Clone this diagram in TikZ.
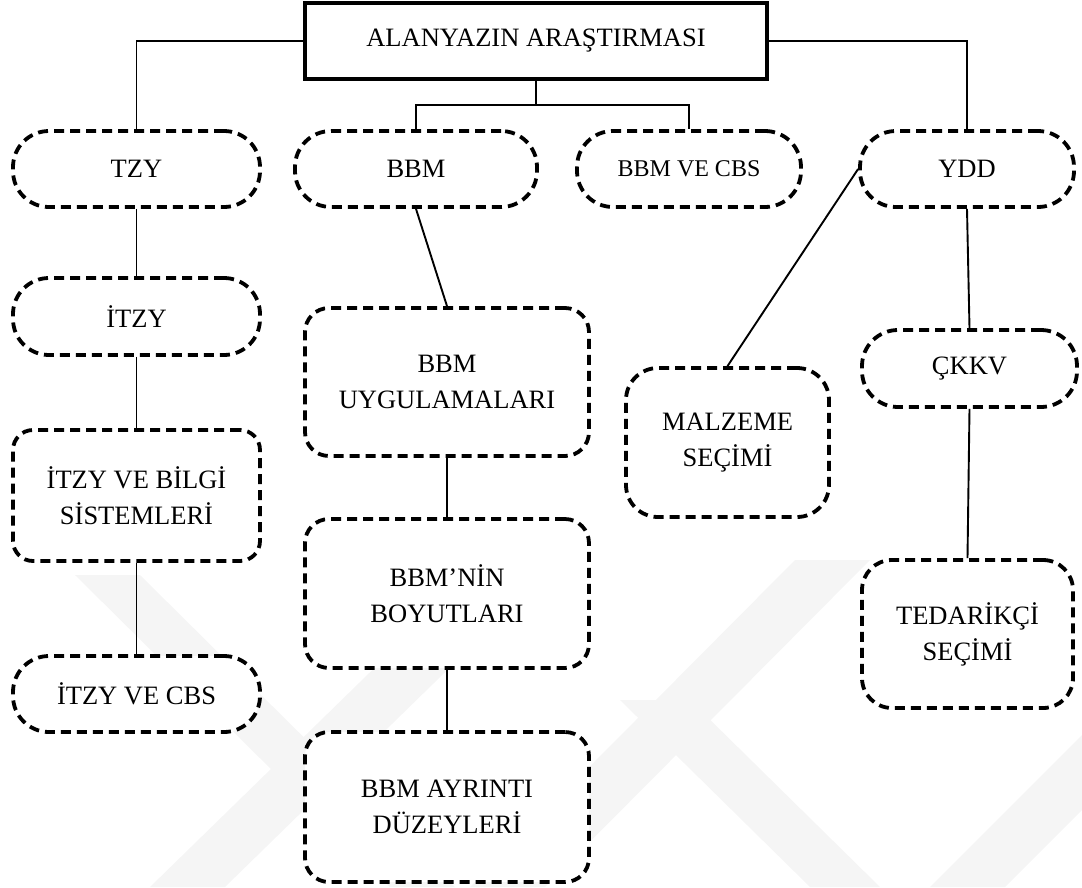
\documentclass[tikz,border=0pt]{standalone}
\usepackage{fontspec}
\setmainfont{Liberation Serif}
\begin{document}
\begin{tikzpicture}[x=1pt,y=-1pt,
  box/.style={draw, line width=3.8pt, dash pattern=on 10pt off 6pt, fill=white, align=center, inner sep=0pt, font=\fontsize{26.5}{36}\selectfont},
  pill/.style={box, rounded corners=36pt},
  rbox/.style={box, rounded corners=24pt},
  link/.style={line width=1.9pt},
  wm/.style={fill=black!4, draw=none}]
\useasboundingbox (0,0) rectangle (1082,887);
% faint watermark
\fill[wm] (75,575) -- (140,575) -- (455,887) -- (390,887) -- cycle;
\fill[wm] (150,887) -- (225,887) -- (560,560) -- (485,560) -- cycle;
\fill[wm] (470,887) -- (545,887) -- (870,560) -- (795,560) -- cycle;
\fill[wm] (620,700) -- (690,700) -- (880,887) -- (810,887) -- cycle;
\fill[wm] (930,887) -- (1005,887) -- (1082,810) -- (1082,735) -- cycle;
% nodes
\node[draw, line width=4.5pt, minimum width=462pt, minimum height=76pt, fill=white, inner sep=0pt, font=\fontsize{26.5}{36}\selectfont] (top) at (536,41) {ALANYAZIN ARAŞTIRMASI};
\node[pill, minimum width=247pt, minimum height=76pt] (tzy) at (136.5,169) {TZY};
\node[pill, minimum width=242pt, minimum height=76pt] (bbm) at (416,169) {BBM};
\node[pill, minimum width=224pt, minimum height=76pt, font=\fontsize{24}{34}\selectfont] (bbmcbs) at (689,169) {BBM VE CBS};
\node[pill, minimum width=214pt, minimum height=76pt] (ydd) at (967,169) {YDD};
\node[pill, minimum width=247pt, minimum height=77pt] (itzy) at (136.5,316.5) {İTZY};
\node[rbox, rounded corners=20pt, minimum width=247pt, minimum height=131pt] (itzyb) at (136.5,495.5) {İTZY VE BİLGİ\\SİSTEMLERİ};
\node[pill, minimum width=247pt, minimum height=76pt] (itzycbs) at (136.5,694) {İTZY VE CBS};
\node[rbox, minimum width=284pt, minimum height=148pt] (bbmu) at (447,382) {BBM\\UYGULAMALARI};
\node[rbox, minimum width=284pt, minimum height=149pt] (bbmn) at (447,593.5) {BBM’NİN\\BOYUTLARI};
\node[rbox, minimum width=284pt, minimum height=150pt] (bbma) at (447,807) {BBM AYRINTI\\DÜZEYLERİ};
\node[rbox, rounded corners=32pt, minimum width=203pt, minimum height=149pt] (malz) at (727.5,442.5) {MALZEME\\SEÇİMİ};
\node[pill, minimum width=215pt, minimum height=77pt] (ckkv) at (969.5,368.5) {ÇKKV};
\node[rbox, rounded corners=30pt, minimum width=211pt, minimum height=148pt] (ted) at (967.5,634) {TEDARİKÇİ\\SEÇİMİ};
% connectors
\coordinate (bar) at (536,105);
\draw[link] (top.west) -| (tzy.north);
\draw[link] (top.east) -| (ydd.north);
\draw[link] (top.south) -- (bar);
\draw[link] (bbm.north) |- (bar) -| (bbmcbs.north);
\draw[link] (tzy.south) -- (itzy.north);
\draw[link] (itzy.south) -- (itzyb.north);
\draw[link] (itzyb.south) -- (itzycbs.north);
\draw[link] (bbm.south) -- (bbmu.north);
\draw[link] (bbmu.south) -- (bbmn.north);
\draw[link] (bbmn.south) -- (bbma.north);
\draw[link] (ydd.west) -- (malz.north);
\draw[link] (ydd.south) -- (ckkv.north);
\draw[link] (ckkv.south) -- (ted.north);
\end{tikzpicture}
\end{document}
